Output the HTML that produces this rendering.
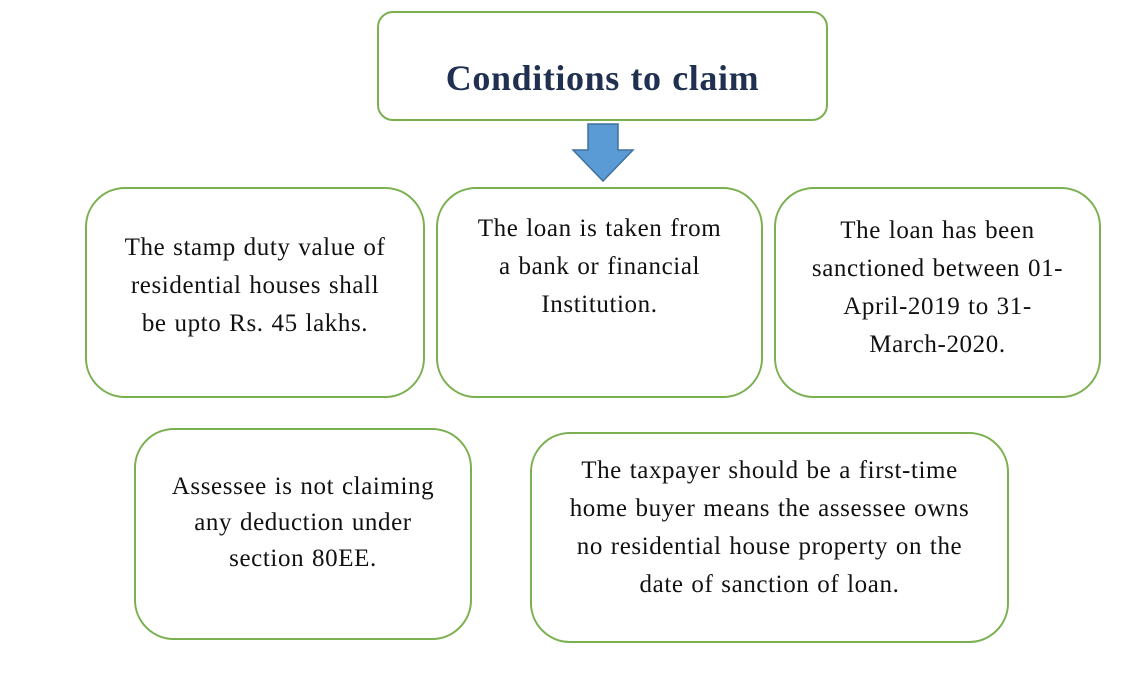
<!DOCTYPE html>
<html><head><style>
body{margin:0;width:1145px;height:700px;background:#fff;position:relative;font-family:"Liberation Serif",serif;overflow:hidden}
.b{position:absolute;box-sizing:border-box;border:2.5px solid #7ab04f;background:#fff;display:flex;align-items:center;justify-content:center;text-align:center;font-size:25px;letter-spacing:0.6px;word-spacing:1px;color:#111;line-height:38px;white-space:nowrap}
</style></head><body>
<div class="b" style="left:377px;top:11px;width:451px;height:110px;border-radius:16px;padding-top:24px;font-weight:bold;font-size:36px;letter-spacing:0.6px;color:#1f3050">Conditions to claim</div>
<svg style="position:absolute;left:570px;top:122px" width="66" height="62"><polygon points="18,2 48,2 48,28 63,28 33,59 3,28 18,28" fill="#5b9bd5" stroke="#41719c" stroke-width="1.5"/></svg>
<div class="b" style="left:85px;top:187px;width:340px;height:211px;border-radius:40px;padding-bottom:14px">The stamp duty value of<br>residential houses shall<br>be upto Rs. 45 lakhs.</div>
<div class="b" style="left:436px;top:187px;width:327px;height:211px;border-radius:40px;padding-bottom:52px">The loan is taken from<br>a bank or financial<br>Institution.</div>
<div class="b" style="left:774px;top:187px;width:327px;height:211px;border-radius:40px;padding-bottom:10px">The loan has been<br>sanctioned between 01-<br>April-2019 to 31-<br>March-2020.</div>
<div class="b" style="left:134px;top:428px;width:338px;height:212px;border-radius:40px;line-height:36px;padding-bottom:22px">Assessee is not claiming<br>any deduction under<br>section 80EE.</div>
<div class="b" style="left:530px;top:432px;width:479px;height:211px;border-radius:40px;padding-bottom:20px">The taxpayer should be a first-time<br>home buyer means the assessee owns<br>no residential house property on the<br>date of sanction of loan.</div>
</body></html>
